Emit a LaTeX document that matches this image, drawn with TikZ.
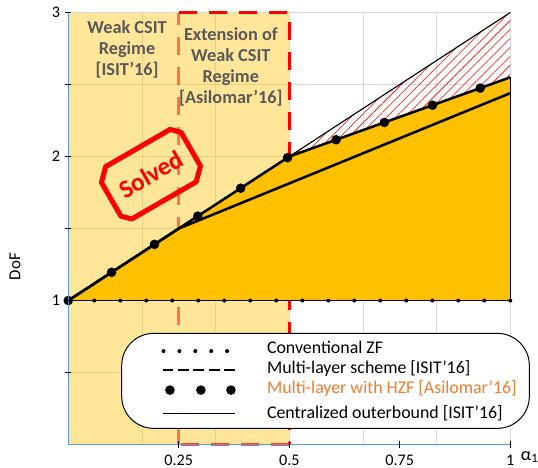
\documentclass[tikz,border=0pt]{standalone}
\usepackage{fontspec}
\setmainfont{Carlito}
\usetikzlibrary{patterns.meta}
\definecolor{gold}{HTML}{FFC000}
\definecolor{axisblue}{HTML}{5B9BD5}
\definecolor{gridgray}{HTML}{D9D9D9}
\definecolor{textgray}{HTML}{595959}
\definecolor{hzforange}{HTML}{ED7D31}
\tikzset{gridline/.style={gridgray, line width=0.6pt},
  axisline/.style={axisblue, line width=1pt},
  tickmark/.style={black, line width=0.6pt},
  thinline/.style={black, line width=0.8pt},
  curve/.style={black, line width=1.8pt, line join=round},
  redbox/.style={red, line width=2.2pt, dash pattern=on 0.45cm off 0.3cm},
  regime/.style={text=textgray, font=\bfseries\fontsize{13}{15}\selectfont, align=center, inner sep=0pt},
  ticklabel/.style={font=\fontsize{11.5}{13}\selectfont, inner sep=0pt},
  stamptext/.style={text=red, inner sep=0pt, font=\bfseries\fontsize{18}{20}\selectfont},
  stampline/.style={red, line width=3.6pt, line join=round},
  legendbox/.style={draw, fill=white, line width=0.7pt, rounded corners=0.8cm,
    minimum width=10.19cm, minimum height=2.375cm},
  legtext/.style={anchor=base west, inner sep=0pt, font=\fontsize{12.7}{14}\selectfont}}

\begin{document}
\begin{tikzpicture}[x=11.05cm, y=3.6cm]
  \useasboundingbox (-0.1545,-0.163) rectangle (1.0627,3.087);
  % grid
  \foreach \x in {1,...,6}
    \draw[gridline] (\x/6,0) -- (\x/6,3);
  \foreach \y in {1,...,6}
    \draw[gridline] (0,\y/2) -- (1,\y/2);
  % weak CSIT regimes
  \fill[gold, opacity=0.4] (0,0) rectangle (0.5,3);
  \coordinate (r1) at (0.25,0);
  \coordinate (r2) at (0.25,3);
  \coordinate (r3) at (0.5,3);
  \coordinate (r4) at (0.5,0);
  \draw[redbox, opacity=0.5] (r1) -- (r2);
  \draw[redbox] (r2) -- (r3) -- (r4);
  \draw[redbox, opacity=0.7] (r4) -- (r1);
  % curves
  \coordinate (h0) at (0,1);
  \coordinate (h1) at (0.5,2);
  \coordinate (h2) at (1,2.55);
  \coordinate (m1) at (0.25,1.5);
  \coordinate (m2) at (1,2.44);
  \coordinate (z1) at (1,1);
  \coordinate (c1) at (1,3);
  \fill[gold] (h0) -- (h1) -- (h2) -- (z1) -- cycle;
  \fill[pattern={Lines[angle=45,distance=4.5pt,line width=0.4pt]}, pattern color=red]
    (h1) -- (c1) -- (h2) -- cycle;
  \draw[thinline] (h0) -- (z1) -- (h2);
  \draw[thinline] (h1) -- (c1);
  \draw[curve] (h0) -- (m1) -- (m2);
  \draw[curve] (h0) -- (h1) -- (h2);
  \foreach \i in {0,...,17}
    \fill (\i/17,1) circle (0.05cm);
  \foreach \x in {0,0.098,0.195,0.293,0.39,0.496}
    \fill (\x,{1+2*\x}) circle (0.12cm);
  \foreach \x in {0.606,0.715,0.824,0.932}
    \fill (\x,{1.45+1.1*\x}) circle (0.12cm);
  % axes
  \draw[axisline] (0,3) -- (0,0) -- (1,0);
  \foreach \y in {1,...,6}
    \draw[tickmark] ([xshift=-0.08cm]0,\y/2) -- ++(0.16cm,0);
  \foreach \x in {1,...,4}
    \draw[tickmark] ([yshift=-0.09cm]\x/4,0) -- ++(0,0.18cm);
  \foreach \y in {1,2,3}
    \node[ticklabel, anchor=east] (ylab\y) at ([xshift=-0.2cm]0,\y) {\y};
  \foreach \x/\t [count=\k] in {0.25/0.25,0.5/0.5,0.75/0.75,1/1}
    \node[ticklabel, anchor=north] (xlab\k) at ([yshift=-0.25cm]\x,0) {\t};
  \node[font=\fontsize{13}{15}\selectfont, inner sep=0pt] (alpha) at (1.044,-0.087) {α\textsubscript{1}};
  \node[rotate=90, font=\fontsize{12}{14}\selectfont, inner sep=0pt] (dof) at (-0.1206,1.235) {DoF};
  % labels
  \node[regime, anchor=north] (weak) at (0.133,2.945) {Weak CSIT\\Regime\\{[ISIT’16]}};
  \node[regime, anchor=north] (ext) at (0.3677,2.9) {Extension of\\Weak CSIT\\Regime\\{[Asilomar’16]}};
  \node[stamptext, rotate=30] (solved) at (0.187,1.877) {Solved};
  \begin{scope}[shift={(solved.center)}, rotate=30]
    \draw[stampline] (-1.175cm,0.44cm) -- (-0.885cm,0.73cm) -- (0.975cm,0.73cm) -- (1.175cm,0.53cm)
      -- (1.175cm,-0.44cm) -- (0.885cm,-0.73cm) -- (-0.975cm,-0.73cm) -- (-1.175cm,-0.53cm) -- cycle;
  \end{scope}
  % legend
  \node[legendbox] (legend) at (0.582,0.442) {};
  \foreach \i in {0,...,4}
    \fill (0.2154+0.036*\i,0.649) circle (0.05cm);
  \draw[line width=1.6pt, dash pattern=on 0.27cm off 0.115cm] (0.2136,0.515) -- (0.377,0.515);
  \foreach \x in {0.230,0.300,0.368}
    \fill (\x,0.378) circle (0.12cm);
  \draw[thinline] (0.2136,0.217) -- (0.377,0.217);
  \node[legtext] (leg1) at (0.449,0.633) {Conventional ZF};
  \node[legtext] (leg2) at (0.449,0.49) {Multi-layer scheme [ISIT’16]};
  \node[legtext, text=hzforange] (leg3) at (0.449,0.351) {Multi-layer with HZF [Asilomar’16]};
  \node[legtext] (leg4) at (0.449,0.182) {Centralized outerbound [ISIT’16]};
\end{tikzpicture}
\end{document}
